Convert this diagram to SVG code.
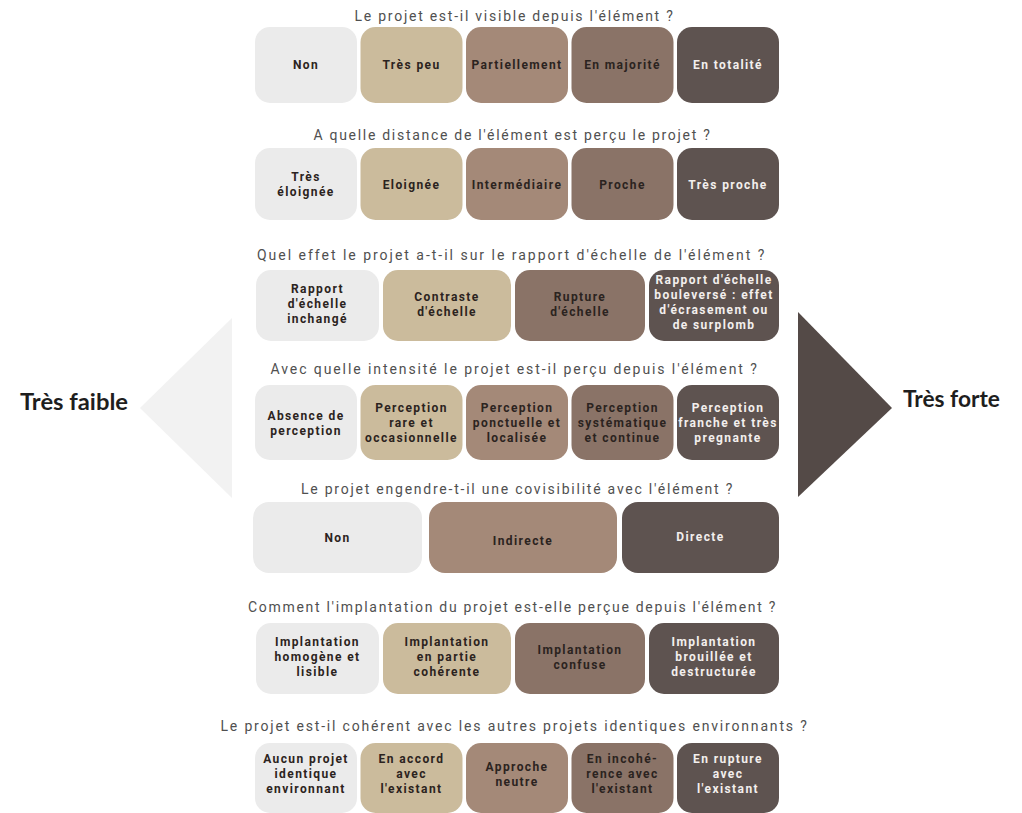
<svg xmlns="http://www.w3.org/2000/svg" width="1022" height="813" viewBox="0 0 1022 813">
<defs>
<style>
.q{font-family:Roboto,"Liberation Sans",sans-serif;font-size:14px;fill:#505050;letter-spacing:0.7px;text-anchor:middle}
.t{font-family:Roboto,"Liberation Sans",sans-serif;font-size:12px;font-weight:bold;letter-spacing:1.4px;text-anchor:middle;fill:#2b2320}
.w{fill:#f3efed}
.c1{fill:#ebebeb}.c2{fill:#cbbb9c}.c3{fill:#a48978}.c4{fill:#8a7367}.c5{fill:#5e5350}
.side{font-family:Lato,"Open Sans",sans-serif;font-size:22px;font-weight:bold;fill:#1e1e1e}
</style>
</defs>
<rect width="1022" height="813" fill="#ffffff"/>
<g id="scale">
<polygon points="232,318 232,498 140,408" fill="#f2f2f2"/>
<polygon points="798,312 798,497 892,408" fill="#544a47"/>
<text class="side" x="20" y="410" textLength="108" lengthAdjust="spacingAndGlyphs">Très faible</text>
<text class="side" x="903" y="407" textLength="97" lengthAdjust="spacingAndGlyphs">Très forte</text>
</g>
<g id="connectors"></g>

<g id="row1">
<text class="q" x="514" y="21" textLength="319" lengthAdjust="spacing">Le projet est-il visible depuis l'élément ?</text>
<g id="r1n1"><rect class="c1" x="255" y="27" width="102" height="76" rx="15"/><text class="t" x="306" y="69">Non</text></g>
<g id="r1n2"><rect class="c2" x="360.5" y="27" width="102" height="76" rx="15"/><text class="t" x="411.5" y="69">Très peu</text></g>
<g id="r1n3"><rect class="c3" x="466" y="27" width="102" height="76" rx="15"/><text class="t" x="517" y="69">Partiellement</text></g>
<g id="r1n4"><rect class="c4" x="571.5" y="27" width="102" height="76" rx="15"/><text class="t" x="622.5" y="69">En majorité</text></g>
<g id="r1n5"><rect class="c5" x="677" y="27" width="102" height="76" rx="15"/><text class="t w" x="728" y="69">En totalité</text></g>
</g>

<g id="row2">
<text class="q" x="512" y="140" textLength="397" lengthAdjust="spacing">A quelle distance de l'élément est perçu le projet ?</text>
<g id="r2n1"><rect class="c1" x="255" y="148" width="102" height="72" rx="15"/><text class="t" x="306" y="181">Très</text><text class="t" x="306" y="196">éloignée</text></g>
<g id="r2n2"><rect class="c2" x="360.5" y="148" width="102" height="72" rx="15"/><text class="t" x="411.5" y="189">Eloignée</text></g>
<g id="r2n3"><rect class="c3" x="466" y="148" width="102" height="72" rx="15"/><text class="t" x="517" y="189">Intermédiaire</text></g>
<g id="r2n4"><rect class="c4" x="571.5" y="148" width="102" height="72" rx="15"/><text class="t" x="622.5" y="189">Proche</text></g>
<g id="r2n5"><rect class="c5" x="677" y="148" width="102" height="72" rx="15"/><text class="t w" x="728" y="189">Très proche</text></g>
</g>

<g id="row3">
<text class="q" x="511" y="260" textLength="508" lengthAdjust="spacing">Quel effet le projet a-t-il sur le rapport d'échelle de l'élément ?</text>
<g id="r3n1"><rect class="c1" x="256" y="270" width="123" height="71" rx="15"/><text class="t" x="317.5" y="293">Rapport</text><text class="t" x="317.5" y="308">d'échelle</text><text class="t" x="317.5" y="323">inchangé</text></g>
<g id="r3n2"><rect class="c2" x="383" y="270" width="128" height="71" rx="15"/><text class="t" x="447" y="301">Contraste</text><text class="t" x="447" y="316">d'échelle</text></g>
<g id="r3n3"><rect class="c4" x="515" y="270" width="130" height="71" rx="15"/><text class="t" x="580" y="301">Rupture</text><text class="t" x="580" y="316">d'échelle</text></g>
<g id="r3n4"><rect class="c5" x="649" y="270" width="130" height="71" rx="15"/><text class="t w" x="714" y="284">Rapport d'échelle</text><text class="t w" x="714" y="299">bouleversé : effet</text><text class="t w" x="714" y="314">d'écrasement ou</text><text class="t w" x="714" y="329">de surplomb</text></g>
</g>

<g id="row4">
<text class="q" x="514" y="374" textLength="487" lengthAdjust="spacing">Avec quelle intensité le projet est-il perçu depuis l'élément ?</text>
<g id="r4n1"><rect class="c1" x="255" y="385" width="102" height="75" rx="15"/><text class="t" x="306" y="420">Absence de</text><text class="t" x="306" y="435">perception</text></g>
<g id="r4n2"><rect class="c2" x="360.5" y="385" width="102" height="75" rx="15"/><text class="t" x="411.5" y="412">Perception</text><text class="t" x="411.5" y="427">rare et</text><text class="t" x="411.5" y="442">occasionnelle</text></g>
<g id="r4n3"><rect class="c3" x="466" y="385" width="102" height="75" rx="15"/><text class="t" x="517" y="412">Perception</text><text class="t" x="517" y="427">ponctuelle et</text><text class="t" x="517" y="442">localisée</text></g>
<g id="r4n4"><rect class="c4" x="571.5" y="385" width="102" height="75" rx="15"/><text class="t" x="622.5" y="412">Perception</text><text class="t" x="622.5" y="427">systématique</text><text class="t" x="622.5" y="442">et continue</text></g>
<g id="r4n5"><rect class="c5" x="677" y="385" width="102" height="75" rx="15"/><text class="t w" x="728" y="412">Perception</text><text class="t w" x="728" y="427">franche et très</text><text class="t w" x="728" y="442">pregnante</text></g>
</g>

<g id="row5">
<text class="q" x="517" y="494" textLength="432" lengthAdjust="spacing">Le projet engendre-t-il une covisibilité avec l'élément ?</text>
<g id="r5n1"><rect class="c1" x="253" y="502" width="169" height="71" rx="16"/><text class="t" x="337.5" y="542">Non</text></g>
<g id="r5n2"><rect class="c3" x="429" y="502" width="188" height="71" rx="16"/><text class="t" x="523" y="545">Indirecte</text></g>
<g id="r5n3"><rect class="c5" x="622" y="502" width="157" height="71" rx="16"/><text class="t w" x="700.5" y="541">Directe</text></g>
</g>

<g id="row6">
<text class="q" x="512" y="612" textLength="528" lengthAdjust="spacing">Comment l'implantation du projet est-elle perçue depuis l'élément ?</text>
<g id="r6n1"><rect class="c1" x="256" y="623" width="123" height="71" rx="15"/><text class="t" x="317.5" y="646">Implantation</text><text class="t" x="317.5" y="661">homogène et</text><text class="t" x="317.5" y="676">lisible</text></g>
<g id="r6n2"><rect class="c2" x="383" y="623" width="128" height="71" rx="15"/><text class="t" x="447" y="646">Implantation</text><text class="t" x="447" y="661">en partie</text><text class="t" x="447" y="676">cohérente</text></g>
<g id="r6n3"><rect class="c4" x="515" y="623" width="130" height="71" rx="15"/><text class="t" x="580" y="654">Implantation</text><text class="t" x="580" y="669">confuse</text></g>
<g id="r6n4"><rect class="c5" x="649" y="623" width="130" height="71" rx="15"/><text class="t w" x="714" y="646">Implantation</text><text class="t w" x="714" y="661">brouillée et</text><text class="t w" x="714" y="676">destructurée</text></g>
</g>

<g id="row7">
<text class="q" x="514" y="731" textLength="587" lengthAdjust="spacing">Le projet est-il cohérent avec les autres projets identiques environnants ?</text>
<g id="r7n1"><rect class="c1" x="255" y="743" width="102" height="70" rx="15"/><text class="t" x="306" y="763">Aucun projet</text><text class="t" x="306" y="778">identique</text><text class="t" x="306" y="793">environnant</text></g>
<g id="r7n2"><rect class="c2" x="360.5" y="743" width="102" height="70" rx="15"/><text class="t" x="411.5" y="763">En accord</text><text class="t" x="411.5" y="778">avec</text><text class="t" x="411.5" y="793">l'existant</text></g>
<g id="r7n3"><rect class="c3" x="466" y="743" width="102" height="70" rx="15"/><text class="t" x="517" y="771">Approche</text><text class="t" x="517" y="786">neutre</text></g>
<g id="r7n4"><rect class="c4" x="571.5" y="743" width="102" height="70" rx="15"/><text class="t" x="622.5" y="763">En incohé-</text><text class="t" x="622.5" y="778">rence avec</text><text class="t" x="622.5" y="793">l'existant</text></g>
<g id="r7n5"><rect class="c5" x="677" y="743" width="102" height="70" rx="15"/><text class="t w" x="728" y="763">En rupture</text><text class="t w" x="728" y="778">avec</text><text class="t w" x="728" y="793">l'existant</text></g>
</g>
</svg>
